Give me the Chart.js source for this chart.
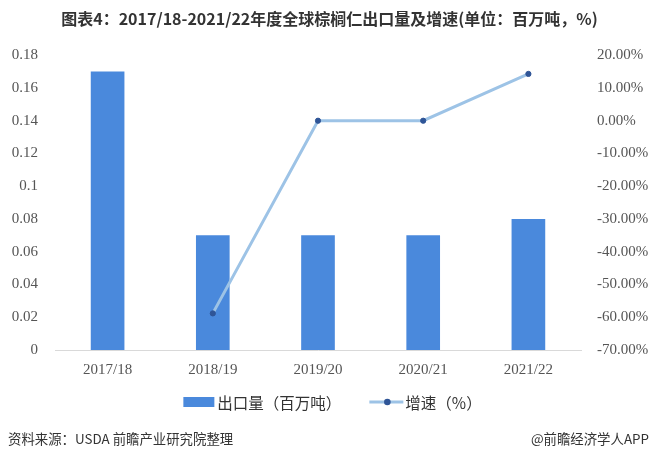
<!DOCTYPE html>
<html><head><meta charset="utf-8">
<script src="https://cdn.jsdelivr.net/npm/chart.js@4"></script>
<style>
html,body{margin:0;padding:0;background:#fff;}
#wrap{position:relative;width:657px;height:458px;}
#c{position:absolute;left:0;top:0;}
.ft{position:absolute;top:428px;font-family:"Noto Sans CJK SC",sans-serif;font-size:13.4px;color:#333;}
</style></head>
<body><div id="wrap"><canvas id="c" width="657" height="458"></canvas>
<div class="ft" style="left:8px">资料来源：USDA 前瞻产业研究院整理</div>
<div class="ft" style="right:8px">@前瞻经济学人APP</div></div>
<script>
const categories = ["2017/18","2018/19","2019/20","2020/21","2021/22"];
const exportVolume = [0.17,0.07,0.07,0.07,0.08];
const growthRate = [null,-58.82,0,0,14.29];
const leftTicks = [0,0.02,0.04,0.06,0.08,0.1,0.12,0.14,0.16,0.18];
const rightTicks = [-70,-60,-50,-40,-30,-20,-10,0,10,20];
const barLabel = '出口量（百万吨）';
const lineLabel = '增速（%）';
const barColor = '#4a89dc', lineColor = '#9dc3e6', dotColor = '#2f5597';

const customLegend = {
  id:'customLegend',
  afterDraw(chart){
    const ctx = chart.ctx; ctx.save();
    const y = 402;
    ctx.font = '15.5px "Noto Sans CJK SC"';
    ctx.textBaseline = 'middle'; ctx.fillStyle = '#333';
    const barTextW = ctx.measureText(barLabel).width;
    const lineTextW = ctx.measureText(lineLabel).width;
    const total = 31 + 3 + barTextW + 28 + 34 + 2 + lineTextW;
    let x = chart.width/2 + 4 - total/2;
    ctx.fillStyle = barColor; ctx.fillRect(x, y-5, 31, 10);
    x += 34; ctx.fillStyle = '#333'; ctx.fillText(barLabel, x, y+1);
    x += barTextW + 28;
    ctx.strokeStyle = lineColor; ctx.lineWidth = 3; ctx.beginPath(); ctx.moveTo(x, y); ctx.lineTo(x+34, y); ctx.stroke();
    ctx.fillStyle = dotColor; ctx.beginPath(); ctx.arc(x+18, y, 3.3, 0, Math.PI*2); ctx.fill();
    x += 36; ctx.fillStyle = '#333'; ctx.fillText(lineLabel, x, y+1);
    ctx.restore();
  }
};

new Chart(document.getElementById('c'),{
  data:{labels:categories,datasets:[
    {type:'line',label:lineLabel,data:growthRate,yAxisID:'y1',borderColor:lineColor,borderWidth:3,pointBackgroundColor:dotColor,pointBorderColor:dotColor,pointRadius:2.6,pointBorderWidth:1,order:0,spanGaps:false},
    {type:'bar',label:barLabel,data:exportVolume,yAxisID:'y',backgroundColor:barColor,barPercentage:0.32,categoryPercentage:1,order:1}
  ]},
  plugins:[customLegend],
  options:{responsive:false,animation:false,
    layout:{padding:{left:8,right:6,top:0,bottom:78}},
    plugins:{
      title:{display:true,text:'图表4：2017/18-2021/22年度全球棕榈仁出口量及增速(单位：百万吨，%)',font:{family:'"Noto Sans CJK SC"',size:16,weight:'bold'},color:'#333',padding:{top:9,bottom:27}},
      legend:{display:false},
      tooltip:{enabled:false}
    },
    scales:{
      x:{afterFit:s=>{s.height=30;},grid:{display:false,drawTicks:false},border:{color:'#d9d9d9'},ticks:{font:{family:'"Liberation Serif"',size:15},color:'#555',padding:11}},
      y:{position:'left',min:0,max:0.18,afterFit:s=>{s.width=47;},afterBuildTicks:a=>{a.ticks=leftTicks.map(v=>({value:v}));},grid:{display:false,drawTicks:false},border:{display:false},
        ticks:{font:{family:'"Liberation Serif"',size:15},color:'#555',padding:17,callback:v=>String(v)}},
      y1:{position:'right',min:-70,max:20,afterFit:s=>{s.width=70;},afterBuildTicks:a=>{a.ticks=rightTicks.map(v=>({value:v}));},grid:{display:false,drawTicks:false},border:{display:false},
        ticks:{font:{family:'"Liberation Serif"',size:15},color:'#555',padding:16,callback:v=>v.toFixed(2)+'%'}}
    }
  }
});
</script></body></html>
